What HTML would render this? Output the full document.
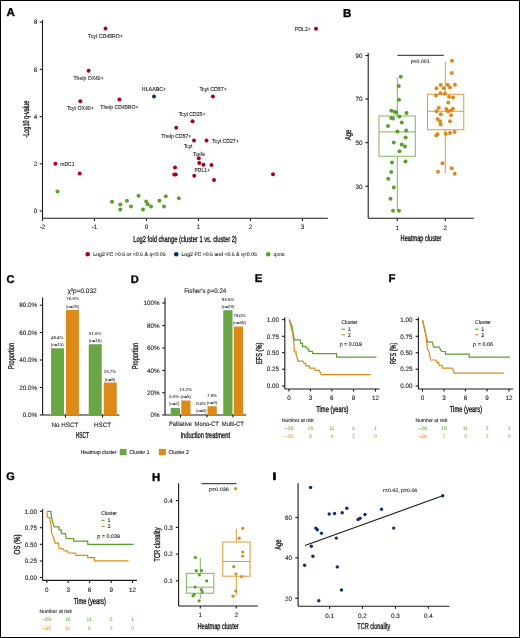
<!DOCTYPE html>
<html><head><meta charset="utf-8"><style>
html,body{margin:0;padding:0;background:#fff;}
body{width:520px;height:638px;overflow:hidden;}
svg{display:block;will-change:transform;}
text{font-family:"Liberation Sans", sans-serif;stroke-linejoin:round;text-rendering:geometricPrecision;}
text.s{text-rendering:optimizeSpeed;}
</style></head><body>
<svg width="520" height="638" viewBox="0 0 520 638">
<rect x="0" y="0" width="520" height="638" fill="#fff"/>
<text x="6.62" y="16.20" font-size="11.55" font-weight="bold" fill="#000" stroke="#000" stroke-width="0.35">A</text>
<line x1="42.50" y1="20.00" x2="42.50" y2="218.30" stroke="#1a1a1a" stroke-width="1.1" />
<line x1="42.50" y1="218.30" x2="327.90" y2="218.30" stroke="#1a1a1a" stroke-width="1.1" />
<line x1="39.70" y1="211.00" x2="42.50" y2="211.00" stroke="#1a1a1a" stroke-width="1.1" />
<text stroke="#1a1a1a" stroke-width="0.1" x="37.30" y="213.27" font-size="6.3" fill="#1a1a1a" text-anchor="end" >0</text>
<line x1="39.70" y1="163.80" x2="42.50" y2="163.80" stroke="#1a1a1a" stroke-width="1.1" />
<text stroke="#1a1a1a" stroke-width="0.1" x="37.30" y="166.07" font-size="6.3" fill="#1a1a1a" text-anchor="end" >2</text>
<line x1="39.70" y1="116.60" x2="42.50" y2="116.60" stroke="#1a1a1a" stroke-width="1.1" />
<text stroke="#1a1a1a" stroke-width="0.1" x="37.30" y="118.87" font-size="6.3" fill="#1a1a1a" text-anchor="end" >4</text>
<line x1="39.70" y1="69.40" x2="42.50" y2="69.40" stroke="#1a1a1a" stroke-width="1.1" />
<text stroke="#1a1a1a" stroke-width="0.1" x="37.30" y="71.67" font-size="6.3" fill="#1a1a1a" text-anchor="end" >6</text>
<line x1="39.70" y1="22.20" x2="42.50" y2="22.20" stroke="#1a1a1a" stroke-width="1.1" />
<text stroke="#1a1a1a" stroke-width="0.1" x="37.30" y="24.47" font-size="6.3" fill="#1a1a1a" text-anchor="end" >8</text>
<line x1="42.50" y1="218.30" x2="42.50" y2="220.90" stroke="#1a1a1a" stroke-width="1.1" />
<text stroke="#1a1a1a" stroke-width="0.1" x="42.50" y="229.07" font-size="6.3" fill="#1a1a1a" font-weight="normal" text-anchor="middle" >-2</text>
<line x1="94.50" y1="218.30" x2="94.50" y2="220.90" stroke="#1a1a1a" stroke-width="1.1" />
<text stroke="#1a1a1a" stroke-width="0.1" x="94.50" y="229.07" font-size="6.3" fill="#1a1a1a" font-weight="normal" text-anchor="middle" >-1</text>
<line x1="146.50" y1="218.30" x2="146.50" y2="220.90" stroke="#1a1a1a" stroke-width="1.1" />
<text stroke="#1a1a1a" stroke-width="0.1" x="146.50" y="229.07" font-size="6.3" fill="#1a1a1a" font-weight="normal" text-anchor="middle" >0</text>
<line x1="198.50" y1="218.30" x2="198.50" y2="220.90" stroke="#1a1a1a" stroke-width="1.1" />
<text stroke="#1a1a1a" stroke-width="0.1" x="198.50" y="229.07" font-size="6.3" fill="#1a1a1a" font-weight="normal" text-anchor="middle" >1</text>
<line x1="250.50" y1="218.30" x2="250.50" y2="220.90" stroke="#1a1a1a" stroke-width="1.1" />
<text stroke="#1a1a1a" stroke-width="0.1" x="250.50" y="229.07" font-size="6.3" fill="#1a1a1a" font-weight="normal" text-anchor="middle" >2</text>
<line x1="302.50" y1="218.30" x2="302.50" y2="220.90" stroke="#1a1a1a" stroke-width="1.1" />
<text stroke="#1a1a1a" stroke-width="0.1" x="302.50" y="229.07" font-size="6.3" fill="#1a1a1a" font-weight="normal" text-anchor="middle" >3</text>
<text transform="translate(28.80,119.20) rotate(-90)" x="0" y="0" font-size="8.6" fill="#1a1a1a" font-weight="normal" text-anchor="middle" textLength="37.00" lengthAdjust="spacingAndGlyphs" stroke="#1a1a1a" stroke-width="0.35">-Log10 q-value</text>
<text x="133.20" y="241.60" font-size="8.6" fill="#1a1a1a" font-weight="normal" textLength="103.60" lengthAdjust="spacingAndGlyphs" stroke="#1a1a1a" stroke-width="0.35" >Log2 fold change (cluster 1 vs. cluster 2)</text>
<circle cx="87.70" cy="254.20" r="2.3" fill="#a8001c"/>
<text stroke="#1a1a1a" stroke-width="0.1" x="93.20" y="256.07" font-size="5.2" fill="#1a1a1a" font-weight="normal" textLength="72.40" lengthAdjust="spacingAndGlyphs"  >Log2 FC &gt;0.5 or &lt;0.5 &amp; q&lt;0.05</text>
<circle cx="176.20" cy="254.20" r="2.3" fill="#0d2f72"/>
<text stroke="#1a1a1a" stroke-width="0.1" x="181.50" y="256.07" font-size="5.2" fill="#1a1a1a" font-weight="normal" textLength="75.40" lengthAdjust="spacingAndGlyphs"  >Log2 FC &gt;0.5 and &lt;0.5 &amp; q&lt;0.05</text>
<circle cx="268.20" cy="254.20" r="2.3" fill="#5aa02c"/>
<text stroke="#1a1a1a" stroke-width="0.1" x="273.50" y="256.07" font-size="5.2" fill="#1a1a1a" font-weight="normal" textLength="11.10" lengthAdjust="spacingAndGlyphs"  >q=ns</text>
<circle cx="57.50" cy="191.50" r="2.0" fill="#5aa02c"/>
<circle cx="112.00" cy="201.70" r="2.0" fill="#5aa02c"/>
<circle cx="120.30" cy="204.50" r="2.0" fill="#5aa02c"/>
<circle cx="120.30" cy="209.40" r="2.0" fill="#5aa02c"/>
<circle cx="127.00" cy="200.80" r="2.0" fill="#5aa02c"/>
<circle cx="131.00" cy="206.60" r="2.0" fill="#5aa02c"/>
<circle cx="138.50" cy="195.80" r="2.0" fill="#5aa02c"/>
<circle cx="143.00" cy="209.40" r="2.0" fill="#5aa02c"/>
<circle cx="146.20" cy="201.40" r="2.0" fill="#5aa02c"/>
<circle cx="147.70" cy="204.20" r="2.0" fill="#5aa02c"/>
<circle cx="151.00" cy="206.60" r="2.0" fill="#5aa02c"/>
<circle cx="159.40" cy="200.80" r="2.0" fill="#5aa02c"/>
<circle cx="164.00" cy="206.60" r="2.0" fill="#5aa02c"/>
<circle cx="165.80" cy="196.20" r="2.0" fill="#5aa02c"/>
<circle cx="178.80" cy="198.30" r="2.0" fill="#5aa02c"/>
<circle cx="105.50" cy="28.50" r="2.0" fill="#a8001c"/>
<circle cx="316.00" cy="28.70" r="2.0" fill="#a8001c"/>
<circle cx="88.60" cy="70.70" r="2.0" fill="#a8001c"/>
<circle cx="80.30" cy="101.20" r="2.0" fill="#a8001c"/>
<circle cx="119.40" cy="99.60" r="2.0" fill="#a8001c"/>
<circle cx="212.90" cy="96.50" r="2.0" fill="#a8001c"/>
<circle cx="192.50" cy="121.25" r="2.0" fill="#a8001c"/>
<circle cx="176.25" cy="127.75" r="2.0" fill="#a8001c"/>
<circle cx="194.00" cy="140.50" r="2.0" fill="#a8001c"/>
<circle cx="206.50" cy="140.50" r="2.0" fill="#a8001c"/>
<circle cx="198.75" cy="158.25" r="2.0" fill="#a8001c"/>
<circle cx="199.25" cy="163.00" r="2.0" fill="#a8001c"/>
<circle cx="203.50" cy="164.75" r="2.0" fill="#a8001c"/>
<circle cx="211.50" cy="165.00" r="2.0" fill="#a8001c"/>
<circle cx="175.00" cy="167.50" r="2.0" fill="#a8001c"/>
<circle cx="174.25" cy="174.50" r="2.0" fill="#a8001c"/>
<circle cx="175.75" cy="174.50" r="2.0" fill="#a8001c"/>
<circle cx="194.25" cy="175.75" r="2.0" fill="#a8001c"/>
<circle cx="214.00" cy="180.00" r="2.0" fill="#a8001c"/>
<circle cx="273.00" cy="174.25" r="2.0" fill="#a8001c"/>
<circle cx="55.40" cy="163.80" r="2.0" fill="#a8001c"/>
<circle cx="79.70" cy="173.40" r="2.0" fill="#a8001c"/>
<circle cx="154.00" cy="96.60" r="2.0" fill="#0d2f72"/>
<text stroke="#1a1a1a" stroke-width="0.1" x="88.10" y="38.25" font-size="5.7" fill="#1a1a1a" font-weight="normal" textLength="34.80" lengthAdjust="spacingAndGlyphs"  >Tcyt CD45RO+</text>
<text stroke="#1a1a1a" stroke-width="0.1" x="73.50" y="80.45" font-size="5.7" fill="#1a1a1a" font-weight="normal" textLength="30.20" lengthAdjust="spacingAndGlyphs"  >Thelp OX40+</text>
<text stroke="#1a1a1a" stroke-width="0.1" x="66.90" y="110.25" font-size="5.7" fill="#1a1a1a" font-weight="normal" textLength="26.80" lengthAdjust="spacingAndGlyphs"  >Tcyt OX40+</text>
<text stroke="#1a1a1a" stroke-width="0.1" x="100.30" y="108.75" font-size="5.7" fill="#1a1a1a" font-weight="normal" textLength="38.20" lengthAdjust="spacingAndGlyphs"  >Thelp CD45RO+</text>
<text stroke="#1a1a1a" stroke-width="0.1" x="141.85" y="90.95" font-size="5.7" fill="#1a1a1a" font-weight="normal" textLength="24.30" lengthAdjust="spacingAndGlyphs"  >HLAABC+</text>
<text stroke="#1a1a1a" stroke-width="0.1" x="294.80" y="30.65" font-size="5.7" fill="#1a1a1a" font-weight="normal" textLength="16.00" lengthAdjust="spacingAndGlyphs"  >PDL2+</text>
<text stroke="#1a1a1a" stroke-width="0.1" x="199.40" y="90.85" font-size="5.7" fill="#1a1a1a" font-weight="normal" textLength="27.40" lengthAdjust="spacingAndGlyphs"  >Tcyt CD57+</text>
<text stroke="#1a1a1a" stroke-width="0.1" x="178.75" y="115.80" font-size="5.7" fill="#1a1a1a" font-weight="normal" textLength="26.75" lengthAdjust="spacingAndGlyphs"  >Tcyt CD25+</text>
<text stroke="#1a1a1a" stroke-width="0.1" x="161.25" y="137.55" font-size="5.7" fill="#1a1a1a" font-weight="normal" textLength="30.00" lengthAdjust="spacingAndGlyphs"  >Thelp CD57+</text>
<text stroke="#1a1a1a" stroke-width="0.1" x="212.00" y="142.55" font-size="5.7" fill="#1a1a1a" font-weight="normal" textLength="26.75" lengthAdjust="spacingAndGlyphs"  >Tcyt CD27+</text>
<text stroke="#1a1a1a" stroke-width="0.1" x="183.75" y="147.55" font-size="5.7" fill="#1a1a1a" font-weight="normal" textLength="8.75" lengthAdjust="spacingAndGlyphs"  >Tcyt</text>
<text stroke="#1a1a1a" stroke-width="0.1" x="193.00" y="155.55" font-size="5.7" fill="#1a1a1a" font-weight="normal" textLength="12.00" lengthAdjust="spacingAndGlyphs"  >Tcells</text>
<text stroke="#1a1a1a" stroke-width="0.1" x="194.50" y="171.80" font-size="5.7" fill="#1a1a1a" font-weight="normal" textLength="15.50" lengthAdjust="spacingAndGlyphs"  >PDL1+</text>
<text stroke="#1a1a1a" stroke-width="0.1" x="60.30" y="165.85" font-size="5.7" fill="#1a1a1a" font-weight="normal" textLength="14.20" lengthAdjust="spacingAndGlyphs"  >mDC1</text>
<text x="342.92" y="17.10" font-size="11.55" font-weight="bold" fill="#000" stroke="#000" stroke-width="0.35">B</text>
<line x1="368.20" y1="52.90" x2="368.20" y2="218.30" stroke="#1a1a1a" stroke-width="1.1" />
<line x1="368.20" y1="218.30" x2="473.80" y2="218.30" stroke="#1a1a1a" stroke-width="1.1" />
<line x1="365.40" y1="186.24" x2="368.20" y2="186.24" stroke="#1a1a1a" stroke-width="1.1" />
<text stroke="#1a1a1a" stroke-width="0.1" x="362.40" y="188.51" font-size="6.3" fill="#1a1a1a" text-anchor="end" >30</text>
<line x1="365.40" y1="142.66" x2="368.20" y2="142.66" stroke="#1a1a1a" stroke-width="1.1" />
<text stroke="#1a1a1a" stroke-width="0.1" x="362.40" y="144.93" font-size="6.3" fill="#1a1a1a" text-anchor="end" >50</text>
<line x1="365.40" y1="99.08" x2="368.20" y2="99.08" stroke="#1a1a1a" stroke-width="1.1" />
<text stroke="#1a1a1a" stroke-width="0.1" x="362.40" y="101.35" font-size="6.3" fill="#1a1a1a" text-anchor="end" >70</text>
<line x1="365.40" y1="55.50" x2="368.20" y2="55.50" stroke="#1a1a1a" stroke-width="1.1" />
<text stroke="#1a1a1a" stroke-width="0.1" x="362.40" y="57.77" font-size="6.3" fill="#1a1a1a" text-anchor="end" >90</text>
<line x1="397.30" y1="218.30" x2="397.30" y2="221.00" stroke="#1a1a1a" stroke-width="1.1" />
<text stroke="#1a1a1a" stroke-width="0.1" x="397.30" y="229.77" font-size="6.3" fill="#1a1a1a" font-weight="normal" text-anchor="middle" >1</text>
<line x1="445.30" y1="218.30" x2="445.30" y2="221.00" stroke="#1a1a1a" stroke-width="1.1" />
<text stroke="#1a1a1a" stroke-width="0.1" x="445.30" y="229.77" font-size="6.3" fill="#1a1a1a" font-weight="normal" text-anchor="middle" >2</text>
<text x="400.60" y="241.40" font-size="8.6" fill="#1a1a1a" font-weight="normal" textLength="40.90" lengthAdjust="spacingAndGlyphs" stroke="#1a1a1a" stroke-width="0.35" >Heatmap cluster</text>
<text transform="translate(350.60,135.00) rotate(-90)" x="0" y="0" font-size="8.6" fill="#1a1a1a" font-weight="normal" text-anchor="middle" textLength="10.60" lengthAdjust="spacingAndGlyphs" stroke="#1a1a1a" stroke-width="0.35">Age</text>
<line x1="397.50" y1="55.30" x2="443.75" y2="55.30" stroke="#222" stroke-width="1.0" />
<text stroke="#1a1a1a" stroke-width="0.1" x="410.75" y="63.10" font-size="5.0" fill="#1a1a1a" font-weight="normal" textLength="18.75" lengthAdjust="spacingAndGlyphs"  >p&lt;0.001</text>
<line x1="397.30" y1="77.50" x2="397.30" y2="116.00" stroke="#7db85a" stroke-width="1.0" />
<line x1="397.30" y1="156.25" x2="397.30" y2="211.00" stroke="#7db85a" stroke-width="1.0" />
<rect x="379.00" y="116.00" width="36.30" height="40.25" fill="none" stroke="#7db85a" stroke-width="1.0"/>
<line x1="379.00" y1="131.90" x2="415.30" y2="131.90" stroke="#7db85a" stroke-width="1.0" />
<line x1="445.30" y1="62.00" x2="445.30" y2="94.25" stroke="#e09a3a" stroke-width="1.0" />
<line x1="445.30" y1="129.80" x2="445.30" y2="173.30" stroke="#e09a3a" stroke-width="1.0" />
<rect x="427.50" y="94.25" width="36.25" height="35.55" fill="none" stroke="#e09a3a" stroke-width="1.0"/>
<line x1="427.50" y1="111.25" x2="463.75" y2="111.25" stroke="#e09a3a" stroke-width="1.0" />
<circle cx="400.75" cy="76.75" r="2.0" fill="#5aa02c"/>
<circle cx="398.75" cy="86.00" r="2.0" fill="#5aa02c"/>
<circle cx="399.00" cy="99.75" r="2.0" fill="#5aa02c"/>
<circle cx="391.25" cy="110.75" r="2.0" fill="#5aa02c"/>
<circle cx="394.50" cy="111.75" r="2.0" fill="#5aa02c"/>
<circle cx="396.25" cy="112.50" r="2.0" fill="#5aa02c"/>
<circle cx="406.50" cy="113.00" r="2.0" fill="#5aa02c"/>
<circle cx="399.40" cy="116.50" r="2.0" fill="#5aa02c"/>
<circle cx="391.25" cy="118.00" r="2.0" fill="#5aa02c"/>
<circle cx="393.00" cy="118.50" r="2.0" fill="#5aa02c"/>
<circle cx="401.75" cy="122.40" r="2.0" fill="#5aa02c"/>
<circle cx="388.00" cy="125.90" r="2.0" fill="#5aa02c"/>
<circle cx="397.40" cy="131.50" r="2.0" fill="#5aa02c"/>
<circle cx="406.20" cy="130.40" r="2.0" fill="#5aa02c"/>
<circle cx="405.60" cy="137.50" r="2.0" fill="#5aa02c"/>
<circle cx="393.75" cy="142.50" r="2.0" fill="#5aa02c"/>
<circle cx="401.75" cy="144.50" r="2.0" fill="#5aa02c"/>
<circle cx="405.00" cy="146.50" r="2.0" fill="#5aa02c"/>
<circle cx="399.50" cy="151.25" r="2.0" fill="#5aa02c"/>
<circle cx="392.00" cy="162.50" r="2.0" fill="#5aa02c"/>
<circle cx="405.50" cy="161.50" r="2.0" fill="#5aa02c"/>
<circle cx="391.25" cy="172.00" r="2.0" fill="#5aa02c"/>
<circle cx="388.25" cy="178.75" r="2.0" fill="#5aa02c"/>
<circle cx="393.75" cy="187.50" r="2.0" fill="#5aa02c"/>
<circle cx="390.50" cy="198.75" r="2.0" fill="#5aa02c"/>
<circle cx="393.00" cy="210.75" r="2.0" fill="#5aa02c"/>
<circle cx="399.00" cy="210.75" r="2.0" fill="#5aa02c"/>
<circle cx="452.00" cy="60.75" r="2.0" fill="#db8a1a"/>
<circle cx="451.75" cy="73.00" r="2.0" fill="#db8a1a"/>
<circle cx="455.00" cy="84.75" r="2.0" fill="#db8a1a"/>
<circle cx="447.75" cy="84.75" r="2.0" fill="#db8a1a"/>
<circle cx="440.75" cy="85.00" r="2.0" fill="#db8a1a"/>
<circle cx="436.50" cy="88.25" r="2.0" fill="#db8a1a"/>
<circle cx="443.75" cy="88.25" r="2.0" fill="#db8a1a"/>
<circle cx="450.00" cy="87.50" r="2.0" fill="#db8a1a"/>
<circle cx="436.00" cy="95.50" r="2.0" fill="#db8a1a"/>
<circle cx="440.50" cy="93.25" r="2.0" fill="#db8a1a"/>
<circle cx="445.00" cy="93.75" r="2.0" fill="#db8a1a"/>
<circle cx="449.00" cy="96.75" r="2.0" fill="#db8a1a"/>
<circle cx="453.00" cy="97.50" r="2.0" fill="#db8a1a"/>
<circle cx="448.25" cy="102.50" r="2.0" fill="#db8a1a"/>
<circle cx="438.75" cy="108.00" r="2.0" fill="#db8a1a"/>
<circle cx="446.25" cy="109.00" r="2.0" fill="#db8a1a"/>
<circle cx="453.00" cy="108.75" r="2.0" fill="#db8a1a"/>
<circle cx="436.50" cy="111.25" r="2.0" fill="#db8a1a"/>
<circle cx="448.00" cy="111.25" r="2.0" fill="#db8a1a"/>
<circle cx="451.00" cy="110.50" r="2.0" fill="#db8a1a"/>
<circle cx="440.75" cy="114.25" r="2.0" fill="#db8a1a"/>
<circle cx="451.00" cy="115.25" r="2.0" fill="#db8a1a"/>
<circle cx="437.50" cy="119.00" r="2.0" fill="#db8a1a"/>
<circle cx="440.00" cy="121.25" r="2.0" fill="#db8a1a"/>
<circle cx="450.00" cy="121.25" r="2.0" fill="#db8a1a"/>
<circle cx="440.75" cy="124.50" r="2.0" fill="#db8a1a"/>
<circle cx="436.25" cy="135.50" r="2.0" fill="#db8a1a"/>
<circle cx="437.50" cy="134.25" r="2.0" fill="#db8a1a"/>
<circle cx="445.75" cy="133.75" r="2.0" fill="#db8a1a"/>
<circle cx="450.00" cy="133.00" r="2.0" fill="#db8a1a"/>
<circle cx="454.50" cy="132.00" r="2.0" fill="#db8a1a"/>
<circle cx="442.50" cy="163.25" r="2.0" fill="#db8a1a"/>
<circle cx="438.00" cy="171.75" r="2.0" fill="#db8a1a"/>
<circle cx="451.75" cy="168.25" r="2.0" fill="#db8a1a"/>
<circle cx="454.75" cy="173.75" r="2.0" fill="#db8a1a"/>
<text x="6.44" y="282.60" font-size="11.10" font-weight="bold" fill="#000" stroke="#000" stroke-width="0.35">C</text>
<text stroke="#1a1a1a" stroke-width="0.1" x="82.10" y="293.13" font-size="6.6" fill="#1a1a1a" font-weight="normal" text-anchor="middle" textLength="29.30" lengthAdjust="spacingAndGlyphs">χ²p=0.032</text>
<line x1="42.60" y1="297.50" x2="42.60" y2="415.00" stroke="#1a1a1a" stroke-width="1.1" />
<line x1="42.60" y1="415.00" x2="119.50" y2="415.00" stroke="#1a1a1a" stroke-width="1.1" />
<line x1="39.80" y1="305.20" x2="42.60" y2="305.20" stroke="#1a1a1a" stroke-width="1.1" />
<text stroke="#1a1a1a" stroke-width="0.1" x="37.00" y="307.47" font-size="6.3" fill="#1a1a1a" text-anchor="end" >80.0%</text>
<line x1="39.80" y1="332.50" x2="42.60" y2="332.50" stroke="#1a1a1a" stroke-width="1.1" />
<text stroke="#1a1a1a" stroke-width="0.1" x="37.00" y="334.77" font-size="6.3" fill="#1a1a1a" text-anchor="end" >60.0%</text>
<line x1="39.80" y1="360.00" x2="42.60" y2="360.00" stroke="#1a1a1a" stroke-width="1.1" />
<text stroke="#1a1a1a" stroke-width="0.1" x="37.00" y="362.27" font-size="6.3" fill="#1a1a1a" text-anchor="end" >40.0%</text>
<line x1="39.80" y1="387.50" x2="42.60" y2="387.50" stroke="#1a1a1a" stroke-width="1.1" />
<text stroke="#1a1a1a" stroke-width="0.1" x="37.00" y="389.77" font-size="6.3" fill="#1a1a1a" text-anchor="end" >20.0%</text>
<line x1="39.80" y1="415.00" x2="42.60" y2="415.00" stroke="#1a1a1a" stroke-width="1.1" />
<text stroke="#1a1a1a" stroke-width="0.1" x="37.00" y="417.27" font-size="6.3" fill="#1a1a1a" text-anchor="end" >0.0%</text>
<rect x="51.10" y="348.25" width="12.90" height="66.75" fill="#6aa646"/>
<rect x="65.90" y="310.00" width="13.00" height="105.00" fill="#dc8a18"/>
<rect x="88.75" y="344.25" width="13.00" height="70.75" fill="#6aa646"/>
<rect x="103.75" y="382.50" width="13.00" height="32.50" fill="#dc8a18"/>
<text class="s" stroke="#1a1a1a" stroke-width="0.04" x="72.50" y="300.33" font-size="4.4" fill="#1a1a1a" font-weight="normal" text-anchor="middle" >76.3%</text>
<text class="s" stroke="#1a1a1a" stroke-width="0.04" x="72.50" y="307.83" font-size="4.4" fill="#1a1a1a" font-weight="normal" text-anchor="middle" >(n=29)</text>
<text class="s" stroke="#1a1a1a" stroke-width="0.04" x="57.25" y="339.08" font-size="4.4" fill="#1a1a1a" font-weight="normal" text-anchor="middle" >48.4%</text>
<text class="s" stroke="#1a1a1a" stroke-width="0.04" x="57.25" y="346.33" font-size="4.4" fill="#1a1a1a" font-weight="normal" text-anchor="middle" >(n=15)</text>
<text class="s" stroke="#1a1a1a" stroke-width="0.04" x="95.25" y="334.83" font-size="4.4" fill="#1a1a1a" font-weight="normal" text-anchor="middle" >51.6%</text>
<text class="s" stroke="#1a1a1a" stroke-width="0.04" x="95.25" y="342.08" font-size="4.4" fill="#1a1a1a" font-weight="normal" text-anchor="middle" >(n=16)</text>
<text class="s" stroke="#1a1a1a" stroke-width="0.04" x="110.00" y="373.33" font-size="4.4" fill="#1a1a1a" font-weight="normal" text-anchor="middle" >23.7%</text>
<text class="s" stroke="#1a1a1a" stroke-width="0.04" x="110.00" y="380.83" font-size="4.4" fill="#1a1a1a" font-weight="normal" text-anchor="middle" >(n=9)</text>
<line x1="65.50" y1="415.00" x2="65.50" y2="417.60" stroke="#1a1a1a" stroke-width="1.1" />
<line x1="102.50" y1="415.00" x2="102.50" y2="417.60" stroke="#1a1a1a" stroke-width="1.1" />
<text stroke="#1a1a1a" stroke-width="0.1" x="65.00" y="426.52" font-size="6.3" fill="#1a1a1a" font-weight="normal" text-anchor="middle" >No HSCT</text>
<text stroke="#1a1a1a" stroke-width="0.1" x="102.50" y="426.52" font-size="6.3" fill="#1a1a1a" font-weight="normal" text-anchor="middle" >HSCT</text>
<text x="75.80" y="438.10" font-size="8.6" fill="#1a1a1a" font-weight="normal" textLength="13.00" lengthAdjust="spacingAndGlyphs" stroke="#1a1a1a" stroke-width="0.35" >HSCT</text>
<text transform="translate(14.00,356.05) rotate(-90)" x="0" y="0" font-size="8.6" fill="#1a1a1a" font-weight="normal" text-anchor="middle" textLength="26.30" lengthAdjust="spacingAndGlyphs" stroke="#1a1a1a" stroke-width="0.35">Proportion</text>
<text x="130.69" y="282.60" font-size="11.10" font-weight="bold" fill="#000" stroke="#000" stroke-width="0.35">D</text>
<text stroke="#1a1a1a" stroke-width="0.1" x="184.25" y="292.88" font-size="6.6" fill="#1a1a1a" font-weight="normal" textLength="42.00" lengthAdjust="spacingAndGlyphs"  >Fisher's p=0.24</text>
<line x1="165.00" y1="297.50" x2="165.00" y2="415.00" stroke="#1a1a1a" stroke-width="1.1" />
<line x1="165.00" y1="415.00" x2="246.25" y2="415.00" stroke="#1a1a1a" stroke-width="1.1" />
<line x1="162.20" y1="303.00" x2="165.00" y2="303.00" stroke="#1a1a1a" stroke-width="1.1" />
<text stroke="#1a1a1a" stroke-width="0.1" x="159.70" y="305.27" font-size="6.3" fill="#1a1a1a" text-anchor="end" >100%</text>
<line x1="162.20" y1="325.50" x2="165.00" y2="325.50" stroke="#1a1a1a" stroke-width="1.1" />
<text stroke="#1a1a1a" stroke-width="0.1" x="159.70" y="327.77" font-size="6.3" fill="#1a1a1a" text-anchor="end" >80%</text>
<line x1="162.20" y1="348.00" x2="165.00" y2="348.00" stroke="#1a1a1a" stroke-width="1.1" />
<text stroke="#1a1a1a" stroke-width="0.1" x="159.70" y="350.27" font-size="6.3" fill="#1a1a1a" text-anchor="end" >60%</text>
<line x1="162.20" y1="370.50" x2="165.00" y2="370.50" stroke="#1a1a1a" stroke-width="1.1" />
<text stroke="#1a1a1a" stroke-width="0.1" x="159.70" y="372.77" font-size="6.3" fill="#1a1a1a" text-anchor="end" >40%</text>
<line x1="162.20" y1="392.75" x2="165.00" y2="392.75" stroke="#1a1a1a" stroke-width="1.1" />
<text stroke="#1a1a1a" stroke-width="0.1" x="159.70" y="395.02" font-size="6.3" fill="#1a1a1a" text-anchor="end" >20%</text>
<line x1="162.20" y1="415.00" x2="165.00" y2="415.00" stroke="#1a1a1a" stroke-width="1.1" />
<text stroke="#1a1a1a" stroke-width="0.1" x="159.70" y="417.27" font-size="6.3" fill="#1a1a1a" text-anchor="end" >0%</text>
<rect x="170.75" y="408.00" width="9.25" height="7.00" fill="#6aa646"/>
<rect x="181.25" y="400.50" width="9.25" height="14.50" fill="#dc8a18"/>
<rect x="207.50" y="406.25" width="9.25" height="8.75" fill="#dc8a18"/>
<rect x="223.25" y="310.25" width="9.25" height="104.75" fill="#6aa646"/>
<rect x="233.75" y="326.50" width="9.25" height="88.50" fill="#dc8a18"/>
<text class="s" stroke="#1a1a1a" stroke-width="0.04" x="174.25" y="397.83" font-size="4.4" fill="#1a1a1a" font-weight="normal" text-anchor="middle" >6.5%</text>
<text class="s" stroke="#1a1a1a" stroke-width="0.04" x="174.25" y="404.83" font-size="4.4" fill="#1a1a1a" font-weight="normal" text-anchor="middle" >(n=2)</text>
<text class="s" stroke="#1a1a1a" stroke-width="0.04" x="185.75" y="390.83" font-size="4.4" fill="#1a1a1a" font-weight="normal" text-anchor="middle" >13.2%</text>
<text class="s" stroke="#1a1a1a" stroke-width="0.04" x="185.75" y="398.08" font-size="4.4" fill="#1a1a1a" font-weight="normal" text-anchor="middle" >(n=5)</text>
<text class="s" stroke="#1a1a1a" stroke-width="0.04" x="201.25" y="404.83" font-size="4.4" fill="#1a1a1a" font-weight="normal" text-anchor="middle" >0.0%</text>
<text class="s" stroke="#1a1a1a" stroke-width="0.04" x="201.25" y="411.83" font-size="4.4" fill="#1a1a1a" font-weight="normal" text-anchor="middle" >(n=0)</text>
<text class="s" stroke="#1a1a1a" stroke-width="0.04" x="212.00" y="396.83" font-size="4.4" fill="#1a1a1a" font-weight="normal" text-anchor="middle" >7.9%</text>
<text class="s" stroke="#1a1a1a" stroke-width="0.04" x="212.00" y="403.83" font-size="4.4" fill="#1a1a1a" font-weight="normal" text-anchor="middle" >(n=3)</text>
<text class="s" stroke="#1a1a1a" stroke-width="0.04" x="228.00" y="300.83" font-size="4.4" fill="#1a1a1a" font-weight="normal" text-anchor="middle" >93.5%</text>
<text class="s" stroke="#1a1a1a" stroke-width="0.04" x="228.00" y="307.83" font-size="4.4" fill="#1a1a1a" font-weight="normal" text-anchor="middle" >(n=29)</text>
<text class="s" stroke="#1a1a1a" stroke-width="0.04" x="239.50" y="317.08" font-size="4.4" fill="#1a1a1a" font-weight="normal" text-anchor="middle" >79.0%</text>
<text class="s" stroke="#1a1a1a" stroke-width="0.04" x="239.50" y="324.08" font-size="4.4" fill="#1a1a1a" font-weight="normal" text-anchor="middle" >(n=30)</text>
<line x1="180.50" y1="415.00" x2="180.50" y2="417.60" stroke="#1a1a1a" stroke-width="1.1" />
<line x1="207.00" y1="415.00" x2="207.00" y2="417.60" stroke="#1a1a1a" stroke-width="1.1" />
<line x1="233.00" y1="415.00" x2="233.00" y2="417.60" stroke="#1a1a1a" stroke-width="1.1" />
<text stroke="#1a1a1a" stroke-width="0.1" x="169.00" y="426.17" font-size="6.3" fill="#1a1a1a" font-weight="normal" textLength="23.00" lengthAdjust="spacingAndGlyphs"  >Palliative</text>
<text stroke="#1a1a1a" stroke-width="0.1" x="194.60" y="426.17" font-size="6.3" fill="#1a1a1a" font-weight="normal" textLength="24.20" lengthAdjust="spacingAndGlyphs"  >Mono-CT</text>
<text stroke="#1a1a1a" stroke-width="0.1" x="221.80" y="426.17" font-size="6.3" fill="#1a1a1a" font-weight="normal" textLength="22.10" lengthAdjust="spacingAndGlyphs"  >Multi-CT</text>
<text x="180.50" y="438.10" font-size="8.6" fill="#1a1a1a" font-weight="normal" textLength="49.50" lengthAdjust="spacingAndGlyphs" stroke="#1a1a1a" stroke-width="0.35" >Induction treatment</text>
<text transform="translate(138.40,356.05) rotate(-90)" x="0" y="0" font-size="8.6" fill="#1a1a1a" font-weight="normal" text-anchor="middle" textLength="26.30" lengthAdjust="spacingAndGlyphs" stroke="#1a1a1a" stroke-width="0.35">Proportion</text>
<text stroke="#1a1a1a" stroke-width="0.1" x="80.70" y="454.12" font-size="5.6" fill="#1a1a1a" font-weight="normal" textLength="35.80" lengthAdjust="spacingAndGlyphs"  >Heatmap cluster</text>
<rect x="119.80" y="448.90" width="6.70" height="6.40" fill="#6aa646"/>
<text stroke="#1a1a1a" stroke-width="0.1" x="129.50" y="454.12" font-size="5.6" fill="#1a1a1a" font-weight="normal" textLength="19.90" lengthAdjust="spacingAndGlyphs"  >Cluster 1</text>
<rect x="158.80" y="448.90" width="7.00" height="6.40" fill="#dc8a18"/>
<text stroke="#1a1a1a" stroke-width="0.1" x="168.50" y="454.12" font-size="5.6" fill="#1a1a1a" font-weight="normal" textLength="20.20" lengthAdjust="spacingAndGlyphs"  >Cluster 2</text>
<text x="254.83" y="282.40" font-size="11.40" font-weight="bold" fill="#000" stroke="#000" stroke-width="0.35">E</text>
<line x1="284.80" y1="317.20" x2="284.80" y2="389.00" stroke="#1a1a1a" stroke-width="1.1" />
<line x1="284.80" y1="389.00" x2="379.50" y2="389.00" stroke="#1a1a1a" stroke-width="1.1" />
<line x1="282.00" y1="319.60" x2="284.80" y2="319.60" stroke="#1a1a1a" stroke-width="1.1" />
<text stroke="#1a1a1a" stroke-width="0.1" x="279.00" y="321.87" font-size="6.3" fill="#1a1a1a" text-anchor="end" >1.00</text>
<line x1="282.00" y1="336.30" x2="284.80" y2="336.30" stroke="#1a1a1a" stroke-width="1.1" />
<text stroke="#1a1a1a" stroke-width="0.1" x="279.00" y="338.57" font-size="6.3" fill="#1a1a1a" text-anchor="end" >0.75</text>
<line x1="282.00" y1="352.70" x2="284.80" y2="352.70" stroke="#1a1a1a" stroke-width="1.1" />
<text stroke="#1a1a1a" stroke-width="0.1" x="279.00" y="354.97" font-size="6.3" fill="#1a1a1a" text-anchor="end" >0.50</text>
<line x1="282.00" y1="369.20" x2="284.80" y2="369.20" stroke="#1a1a1a" stroke-width="1.1" />
<text stroke="#1a1a1a" stroke-width="0.1" x="279.00" y="371.47" font-size="6.3" fill="#1a1a1a" text-anchor="end" >0.25</text>
<line x1="282.00" y1="386.00" x2="284.80" y2="386.00" stroke="#1a1a1a" stroke-width="1.1" />
<text stroke="#1a1a1a" stroke-width="0.1" x="279.00" y="388.27" font-size="6.3" fill="#1a1a1a" text-anchor="end" >0.00</text>
<line x1="288.90" y1="389.00" x2="288.90" y2="391.60" stroke="#1a1a1a" stroke-width="1.1" />
<text stroke="#1a1a1a" stroke-width="0.1" x="288.90" y="400.27" font-size="6.3" fill="#1a1a1a" font-weight="normal" text-anchor="middle" >0</text>
<line x1="310.40" y1="389.00" x2="310.40" y2="391.60" stroke="#1a1a1a" stroke-width="1.1" />
<text stroke="#1a1a1a" stroke-width="0.1" x="310.40" y="400.27" font-size="6.3" fill="#1a1a1a" font-weight="normal" text-anchor="middle" >3</text>
<line x1="331.80" y1="389.00" x2="331.80" y2="391.60" stroke="#1a1a1a" stroke-width="1.1" />
<text stroke="#1a1a1a" stroke-width="0.1" x="331.80" y="400.27" font-size="6.3" fill="#1a1a1a" font-weight="normal" text-anchor="middle" >6</text>
<line x1="353.50" y1="389.00" x2="353.50" y2="391.60" stroke="#1a1a1a" stroke-width="1.1" />
<text stroke="#1a1a1a" stroke-width="0.1" x="353.50" y="400.27" font-size="6.3" fill="#1a1a1a" font-weight="normal" text-anchor="middle" >9</text>
<line x1="375.50" y1="389.00" x2="375.50" y2="391.60" stroke="#1a1a1a" stroke-width="1.1" />
<text stroke="#1a1a1a" stroke-width="0.1" x="375.50" y="400.27" font-size="6.3" fill="#1a1a1a" font-weight="normal" text-anchor="middle" >12</text>
<text x="316.20" y="412.40" font-size="8.6" fill="#1a1a1a" font-weight="normal" textLength="32.30" lengthAdjust="spacingAndGlyphs" stroke="#1a1a1a" stroke-width="0.35" >Time (years)</text>
<text transform="translate(262.30,353.30) rotate(-90)" x="0" y="0" font-size="8.6" fill="#1a1a1a" font-weight="normal" text-anchor="middle" textLength="21.20" lengthAdjust="spacingAndGlyphs" stroke="#1a1a1a" stroke-width="0.35">EFS (%)</text>
<text stroke="#1a1a1a" stroke-width="0.1" x="341.50" y="323.64" font-size="5.4" fill="#1a1a1a" font-weight="normal" textLength="15.90" lengthAdjust="spacingAndGlyphs"  >Cluster</text>
<line x1="341.50" y1="329.20" x2="345.00" y2="329.20" stroke="#5aa02c" stroke-width="1.1" />
<text stroke="#1a1a1a" stroke-width="0.1" x="349.20" y="331.14" font-size="5.4" fill="#1a1a1a" font-weight="normal" text-anchor="middle" >1</text>
<line x1="341.50" y1="334.80" x2="345.00" y2="334.80" stroke="#db8a1a" stroke-width="1.1" />
<text stroke="#1a1a1a" stroke-width="0.1" x="349.20" y="336.74" font-size="5.4" fill="#1a1a1a" font-weight="normal" text-anchor="middle" >2</text>
<text stroke="#1a1a1a" stroke-width="0.1" x="339.70" y="345.94" font-size="5.4" fill="#1a1a1a" font-weight="normal" textLength="22.30" lengthAdjust="spacingAndGlyphs"  >p = 0.019</text>
<text stroke="#1a1a1a" stroke-width="0.1" x="282.00" y="421.50" font-size="5.0" fill="#1a1a1a" font-weight="normal" textLength="31.80" lengthAdjust="spacingAndGlyphs"  >Number at risk</text>
<text stroke="#70b24c" stroke-width="0.1" x="284.30" y="430.00" font-size="5.0" fill="#70b24c" font-weight="normal" textLength="9.20" lengthAdjust="spacingAndGlyphs"  >−29</text>
<text stroke="#e59c40" stroke-width="0.1" x="284.30" y="438.30" font-size="5.0" fill="#e59c40" font-weight="normal" textLength="9.20" lengthAdjust="spacingAndGlyphs"  >−30</text>
<text stroke="#70b24c" stroke-width="0.1" x="310.40" y="430.00" font-size="5.0" fill="#70b24c" font-weight="normal" text-anchor="middle" >15</text>
<text stroke="#e59c40" stroke-width="0.1" x="310.40" y="438.30" font-size="5.0" fill="#e59c40" font-weight="normal" text-anchor="middle" >8</text>
<text stroke="#70b24c" stroke-width="0.1" x="331.80" y="430.00" font-size="5.0" fill="#70b24c" font-weight="normal" text-anchor="middle" >11</text>
<text stroke="#e59c40" stroke-width="0.1" x="331.80" y="438.30" font-size="5.0" fill="#e59c40" font-weight="normal" text-anchor="middle" >4</text>
<text stroke="#70b24c" stroke-width="0.1" x="353.50" y="430.00" font-size="5.0" fill="#70b24c" font-weight="normal" text-anchor="middle" >2</text>
<text stroke="#e59c40" stroke-width="0.1" x="353.50" y="438.30" font-size="5.0" fill="#e59c40" font-weight="normal" text-anchor="middle" >2</text>
<text stroke="#70b24c" stroke-width="0.1" x="375.50" y="430.00" font-size="5.0" fill="#70b24c" font-weight="normal" text-anchor="middle" >1</text>
<text stroke="#e59c40" stroke-width="0.1" x="375.50" y="438.30" font-size="5.0" fill="#e59c40" font-weight="normal" text-anchor="middle" >0</text>
<polyline points="289.20,319.60 292.10,326.50 293.20,333.50 294.40,339.80 300.20,339.80 300.70,343.30 302.50,343.30 302.50,346.70 305.90,346.70 307.10,349.00 308.80,349.00 308.80,351.30 312.30,351.30 312.80,353.70 336.50,353.70 336.50,357.10 376.50,357.10" fill="none" stroke="#5aa02c" stroke-width="1.2" stroke-linejoin="miter"/>
<polyline points="289.20,319.60 290.30,324.20 292.70,333.50 293.80,342.70 294.40,351.90 296.10,351.90 296.10,354.80 297.30,357.70 297.80,361.20 303.00,361.20 304.20,363.50 305.90,363.50 305.90,365.80 309.40,365.80 309.40,368.10 314.60,368.10 315.20,370.40 319.20,370.40 321.30,374.60 370.80,374.60" fill="none" stroke="#db8a1a" stroke-width="1.2" stroke-linejoin="miter"/>
<text x="388.43" y="282.40" font-size="11.40" font-weight="bold" fill="#000" stroke="#000" stroke-width="0.35">F</text>
<line x1="418.40" y1="317.20" x2="418.40" y2="389.00" stroke="#1a1a1a" stroke-width="1.1" />
<line x1="418.40" y1="389.00" x2="513.10" y2="389.00" stroke="#1a1a1a" stroke-width="1.1" />
<line x1="415.60" y1="319.60" x2="418.40" y2="319.60" stroke="#1a1a1a" stroke-width="1.1" />
<text stroke="#1a1a1a" stroke-width="0.1" x="412.60" y="321.87" font-size="6.3" fill="#1a1a1a" text-anchor="end" >1.00</text>
<line x1="415.60" y1="336.30" x2="418.40" y2="336.30" stroke="#1a1a1a" stroke-width="1.1" />
<text stroke="#1a1a1a" stroke-width="0.1" x="412.60" y="338.57" font-size="6.3" fill="#1a1a1a" text-anchor="end" >0.75</text>
<line x1="415.60" y1="352.70" x2="418.40" y2="352.70" stroke="#1a1a1a" stroke-width="1.1" />
<text stroke="#1a1a1a" stroke-width="0.1" x="412.60" y="354.97" font-size="6.3" fill="#1a1a1a" text-anchor="end" >0.50</text>
<line x1="415.60" y1="369.20" x2="418.40" y2="369.20" stroke="#1a1a1a" stroke-width="1.1" />
<text stroke="#1a1a1a" stroke-width="0.1" x="412.60" y="371.47" font-size="6.3" fill="#1a1a1a" text-anchor="end" >0.25</text>
<line x1="415.60" y1="386.00" x2="418.40" y2="386.00" stroke="#1a1a1a" stroke-width="1.1" />
<text stroke="#1a1a1a" stroke-width="0.1" x="412.60" y="388.27" font-size="6.3" fill="#1a1a1a" text-anchor="end" >0.00</text>
<line x1="422.50" y1="389.00" x2="422.50" y2="391.60" stroke="#1a1a1a" stroke-width="1.1" />
<text stroke="#1a1a1a" stroke-width="0.1" x="422.50" y="400.27" font-size="6.3" fill="#1a1a1a" font-weight="normal" text-anchor="middle" >0</text>
<line x1="444.00" y1="389.00" x2="444.00" y2="391.60" stroke="#1a1a1a" stroke-width="1.1" />
<text stroke="#1a1a1a" stroke-width="0.1" x="444.00" y="400.27" font-size="6.3" fill="#1a1a1a" font-weight="normal" text-anchor="middle" >3</text>
<line x1="465.40" y1="389.00" x2="465.40" y2="391.60" stroke="#1a1a1a" stroke-width="1.1" />
<text stroke="#1a1a1a" stroke-width="0.1" x="465.40" y="400.27" font-size="6.3" fill="#1a1a1a" font-weight="normal" text-anchor="middle" >6</text>
<line x1="487.10" y1="389.00" x2="487.10" y2="391.60" stroke="#1a1a1a" stroke-width="1.1" />
<text stroke="#1a1a1a" stroke-width="0.1" x="487.10" y="400.27" font-size="6.3" fill="#1a1a1a" font-weight="normal" text-anchor="middle" >9</text>
<line x1="509.10" y1="389.00" x2="509.10" y2="391.60" stroke="#1a1a1a" stroke-width="1.1" />
<text stroke="#1a1a1a" stroke-width="0.1" x="509.10" y="400.27" font-size="6.3" fill="#1a1a1a" font-weight="normal" text-anchor="middle" >12</text>
<text x="449.80" y="412.40" font-size="8.6" fill="#1a1a1a" font-weight="normal" textLength="32.30" lengthAdjust="spacingAndGlyphs" stroke="#1a1a1a" stroke-width="0.35" >Time (years)</text>
<text transform="translate(395.90,353.30) rotate(-90)" x="0" y="0" font-size="8.6" fill="#1a1a1a" font-weight="normal" text-anchor="middle" textLength="21.20" lengthAdjust="spacingAndGlyphs" stroke="#1a1a1a" stroke-width="0.35">RFS (%)</text>
<text stroke="#1a1a1a" stroke-width="0.1" x="475.10" y="323.64" font-size="5.4" fill="#1a1a1a" font-weight="normal" textLength="15.90" lengthAdjust="spacingAndGlyphs"  >Cluster</text>
<line x1="475.10" y1="329.20" x2="478.60" y2="329.20" stroke="#5aa02c" stroke-width="1.1" />
<text stroke="#1a1a1a" stroke-width="0.1" x="482.80" y="331.14" font-size="5.4" fill="#1a1a1a" font-weight="normal" text-anchor="middle" >1</text>
<line x1="475.10" y1="334.80" x2="478.60" y2="334.80" stroke="#db8a1a" stroke-width="1.1" />
<text stroke="#1a1a1a" stroke-width="0.1" x="482.80" y="336.74" font-size="5.4" fill="#1a1a1a" font-weight="normal" text-anchor="middle" >2</text>
<text stroke="#1a1a1a" stroke-width="0.1" x="473.10" y="345.94" font-size="5.4" fill="#1a1a1a" font-weight="normal" textLength="20.00" lengthAdjust="spacingAndGlyphs"  >p = 0.06</text>
<text stroke="#1a1a1a" stroke-width="0.1" x="415.60" y="421.50" font-size="5.0" fill="#1a1a1a" font-weight="normal" textLength="31.80" lengthAdjust="spacingAndGlyphs"  >Number at risk</text>
<text stroke="#70b24c" stroke-width="0.1" x="417.90" y="430.00" font-size="5.0" fill="#70b24c" font-weight="normal" textLength="9.20" lengthAdjust="spacingAndGlyphs"  >−29</text>
<text stroke="#e59c40" stroke-width="0.1" x="417.90" y="438.30" font-size="5.0" fill="#e59c40" font-weight="normal" textLength="9.20" lengthAdjust="spacingAndGlyphs"  >−26</text>
<text stroke="#70b24c" stroke-width="0.1" x="444.00" y="430.00" font-size="5.0" fill="#70b24c" font-weight="normal" text-anchor="middle" >15</text>
<text stroke="#e59c40" stroke-width="0.1" x="444.00" y="438.30" font-size="5.0" fill="#e59c40" font-weight="normal" text-anchor="middle" >7</text>
<text stroke="#70b24c" stroke-width="0.1" x="465.40" y="430.00" font-size="5.0" fill="#70b24c" font-weight="normal" text-anchor="middle" >11</text>
<text stroke="#e59c40" stroke-width="0.1" x="465.40" y="438.30" font-size="5.0" fill="#e59c40" font-weight="normal" text-anchor="middle" >3</text>
<text stroke="#70b24c" stroke-width="0.1" x="487.10" y="430.00" font-size="5.0" fill="#70b24c" font-weight="normal" text-anchor="middle" >2</text>
<text stroke="#e59c40" stroke-width="0.1" x="487.10" y="438.30" font-size="5.0" fill="#e59c40" font-weight="normal" text-anchor="middle" >2</text>
<text stroke="#70b24c" stroke-width="0.1" x="509.10" y="430.00" font-size="5.0" fill="#70b24c" font-weight="normal" text-anchor="middle" >1</text>
<text stroke="#e59c40" stroke-width="0.1" x="509.10" y="438.30" font-size="5.0" fill="#e59c40" font-weight="normal" text-anchor="middle" >0</text>
<polyline points="422.60,320.20 426.10,335.80 427.20,341.00 427.80,342.10 432.40,342.10 433.60,347.10 439.30,347.10 440.50,349.60 441.70,351.30 445.40,351.50 445.40,354.20 469.20,354.20 469.20,357.20 510.00,357.20" fill="none" stroke="#5aa02c" stroke-width="1.2" stroke-linejoin="miter"/>
<polyline points="422.60,320.20 426.10,335.80 426.70,342.70 427.50,349.60 429.00,351.30 429.50,354.20 430.50,360.00 435.90,360.00 437.00,362.30 438.80,362.30 438.80,365.20 442.30,365.70 442.30,368.20 452.30,368.20 453.80,370.80 453.80,373.10 504.30,373.10" fill="none" stroke="#db8a1a" stroke-width="1.2" stroke-linejoin="miter"/>
<text x="6.35" y="480.10" font-size="10.96" font-weight="bold" fill="#000" stroke="#000" stroke-width="0.35">G</text>
<line x1="42.60" y1="508.90" x2="42.60" y2="580.40" stroke="#1a1a1a" stroke-width="1.1" />
<line x1="42.60" y1="580.40" x2="136.90" y2="580.40" stroke="#1a1a1a" stroke-width="1.1" />
<line x1="39.80" y1="511.30" x2="42.60" y2="511.30" stroke="#1a1a1a" stroke-width="1.1" />
<text stroke="#1a1a1a" stroke-width="0.1" x="37.00" y="513.57" font-size="6.3" fill="#1a1a1a" text-anchor="end" >1.00</text>
<line x1="39.80" y1="527.70" x2="42.60" y2="527.70" stroke="#1a1a1a" stroke-width="1.1" />
<text stroke="#1a1a1a" stroke-width="0.1" x="37.00" y="529.97" font-size="6.3" fill="#1a1a1a" text-anchor="end" >0.75</text>
<line x1="39.80" y1="544.30" x2="42.60" y2="544.30" stroke="#1a1a1a" stroke-width="1.1" />
<text stroke="#1a1a1a" stroke-width="0.1" x="37.00" y="546.57" font-size="6.3" fill="#1a1a1a" text-anchor="end" >0.50</text>
<line x1="39.80" y1="561.00" x2="42.60" y2="561.00" stroke="#1a1a1a" stroke-width="1.1" />
<text stroke="#1a1a1a" stroke-width="0.1" x="37.00" y="563.27" font-size="6.3" fill="#1a1a1a" text-anchor="end" >0.25</text>
<line x1="39.80" y1="577.50" x2="42.60" y2="577.50" stroke="#1a1a1a" stroke-width="1.1" />
<text stroke="#1a1a1a" stroke-width="0.1" x="37.00" y="579.77" font-size="6.3" fill="#1a1a1a" text-anchor="end" >0.00</text>
<line x1="46.80" y1="580.40" x2="46.80" y2="583.00" stroke="#1a1a1a" stroke-width="1.1" />
<text stroke="#1a1a1a" stroke-width="0.1" x="46.80" y="592.37" font-size="6.3" fill="#1a1a1a" font-weight="normal" text-anchor="middle" >0</text>
<line x1="68.20" y1="580.40" x2="68.20" y2="583.00" stroke="#1a1a1a" stroke-width="1.1" />
<text stroke="#1a1a1a" stroke-width="0.1" x="68.20" y="592.37" font-size="6.3" fill="#1a1a1a" font-weight="normal" text-anchor="middle" >3</text>
<line x1="89.50" y1="580.40" x2="89.50" y2="583.00" stroke="#1a1a1a" stroke-width="1.1" />
<text stroke="#1a1a1a" stroke-width="0.1" x="89.50" y="592.37" font-size="6.3" fill="#1a1a1a" font-weight="normal" text-anchor="middle" >6</text>
<line x1="111.20" y1="580.40" x2="111.20" y2="583.00" stroke="#1a1a1a" stroke-width="1.1" />
<text stroke="#1a1a1a" stroke-width="0.1" x="111.20" y="592.37" font-size="6.3" fill="#1a1a1a" font-weight="normal" text-anchor="middle" >9</text>
<line x1="132.60" y1="580.40" x2="132.60" y2="583.00" stroke="#1a1a1a" stroke-width="1.1" />
<text stroke="#1a1a1a" stroke-width="0.1" x="132.60" y="592.37" font-size="6.3" fill="#1a1a1a" font-weight="normal" text-anchor="middle" >12</text>
<text x="73.80" y="603.80" font-size="8.6" fill="#1a1a1a" font-weight="normal" textLength="32.10" lengthAdjust="spacingAndGlyphs" stroke="#1a1a1a" stroke-width="0.35" >Time (years)</text>
<text transform="translate(20.40,544.50) rotate(-90)" x="0" y="0" font-size="8.6" fill="#1a1a1a" font-weight="normal" text-anchor="middle" textLength="20.00" lengthAdjust="spacingAndGlyphs" stroke="#1a1a1a" stroke-width="0.35">OS (%)</text>
<text stroke="#1a1a1a" stroke-width="0.1" x="101.20" y="515.04" font-size="5.4" fill="#1a1a1a" font-weight="normal" textLength="15.70" lengthAdjust="spacingAndGlyphs"  >Cluster</text>
<line x1="101.20" y1="520.30" x2="104.60" y2="520.30" stroke="#5aa02c" stroke-width="1.1" />
<text stroke="#1a1a1a" stroke-width="0.1" x="108.90" y="522.24" font-size="5.4" fill="#1a1a1a" font-weight="normal" text-anchor="middle" >1</text>
<line x1="101.20" y1="526.50" x2="104.60" y2="526.50" stroke="#db8a1a" stroke-width="1.1" />
<text stroke="#1a1a1a" stroke-width="0.1" x="108.90" y="528.44" font-size="5.4" fill="#1a1a1a" font-weight="normal" text-anchor="middle" >2</text>
<text stroke="#1a1a1a" stroke-width="0.1" x="97.20" y="537.74" font-size="5.4" fill="#1a1a1a" font-weight="normal" textLength="22.80" lengthAdjust="spacingAndGlyphs"  >p = 0.039</text>
<text stroke="#1a1a1a" stroke-width="0.1" x="39.60" y="613.30" font-size="5.0" fill="#1a1a1a" font-weight="normal" textLength="32.30" lengthAdjust="spacingAndGlyphs"  >Number at risk</text>
<text stroke="#70b24c" stroke-width="0.1" x="41.90" y="621.40" font-size="5.0" fill="#70b24c" font-weight="normal" textLength="9.30" lengthAdjust="spacingAndGlyphs"  >−29</text>
<text stroke="#e59c40" stroke-width="0.1" x="41.90" y="630.00" font-size="5.0" fill="#e59c40" font-weight="normal" textLength="9.30" lengthAdjust="spacingAndGlyphs"  >−30</text>
<text stroke="#70b24c" stroke-width="0.1" x="67.80" y="621.40" font-size="5.0" fill="#70b24c" font-weight="normal" text-anchor="middle" >16</text>
<text stroke="#e59c40" stroke-width="0.1" x="67.80" y="630.00" font-size="5.0" fill="#e59c40" font-weight="normal" text-anchor="middle" >11</text>
<text stroke="#70b24c" stroke-width="0.1" x="89.20" y="621.40" font-size="5.0" fill="#70b24c" font-weight="normal" text-anchor="middle" >11</text>
<text stroke="#e59c40" stroke-width="0.1" x="89.20" y="630.00" font-size="5.0" fill="#e59c40" font-weight="normal" text-anchor="middle" >8</text>
<text stroke="#70b24c" stroke-width="0.1" x="111.20" y="621.40" font-size="5.0" fill="#70b24c" font-weight="normal" text-anchor="middle" >2</text>
<text stroke="#e59c40" stroke-width="0.1" x="111.20" y="630.00" font-size="5.0" fill="#e59c40" font-weight="normal" text-anchor="middle" >2</text>
<text stroke="#70b24c" stroke-width="0.1" x="132.60" y="621.40" font-size="5.0" fill="#70b24c" font-weight="normal" text-anchor="middle" >1</text>
<text stroke="#e59c40" stroke-width="0.1" x="132.60" y="630.00" font-size="5.0" fill="#e59c40" font-weight="normal" text-anchor="middle" >0</text>
<polyline points="47.20,511.30 49.20,511.30 51.00,511.30 51.00,513.70 52.10,520.00 53.80,525.80 54.40,526.90 57.30,526.90 59.00,526.90 59.00,529.80 61.30,529.80 61.30,533.60 65.40,533.60 66.30,538.50 73.50,538.50 73.70,541.20 87.70,541.20 87.70,544.30 133.80,544.30" fill="none" stroke="#5aa02c" stroke-width="1.2" stroke-linejoin="miter"/>
<polyline points="47.20,511.30 46.90,515.40 48.10,517.70 49.80,517.70 49.80,518.80 51.00,524.60 51.50,532.70 52.70,535.60 53.80,538.50 55.00,543.10 58.50,543.10 58.50,544.20 59.00,548.30 63.10,548.80 64.20,550.60 67.10,550.90 68.30,552.90 75.30,553.10 76.20,555.40 87.70,555.40 87.70,557.70 94.60,557.70 94.60,560.80 128.50,560.80" fill="none" stroke="#db8a1a" stroke-width="1.2" stroke-linejoin="miter"/>
<text x="151.93" y="480.50" font-size="11.40" font-weight="bold" fill="#000" stroke="#000" stroke-width="0.35">H</text>
<line x1="178.60" y1="483.30" x2="178.60" y2="606.00" stroke="#1a1a1a" stroke-width="1.1" />
<line x1="178.60" y1="606.00" x2="257.80" y2="606.00" stroke="#1a1a1a" stroke-width="1.1" />
<line x1="175.80" y1="500.60" x2="178.60" y2="500.60" stroke="#1a1a1a" stroke-width="1.1" />
<text stroke="#1a1a1a" stroke-width="0.1" x="172.70" y="502.87" font-size="6.3" fill="#1a1a1a" text-anchor="end" >0.4</text>
<line x1="175.80" y1="527.40" x2="178.60" y2="527.40" stroke="#1a1a1a" stroke-width="1.1" />
<text stroke="#1a1a1a" stroke-width="0.1" x="172.70" y="529.67" font-size="6.3" fill="#1a1a1a" text-anchor="end" >0.3</text>
<line x1="175.80" y1="554.10" x2="178.60" y2="554.10" stroke="#1a1a1a" stroke-width="1.1" />
<text stroke="#1a1a1a" stroke-width="0.1" x="172.70" y="556.37" font-size="6.3" fill="#1a1a1a" text-anchor="end" >0.2</text>
<line x1="175.80" y1="580.90" x2="178.60" y2="580.90" stroke="#1a1a1a" stroke-width="1.1" />
<text stroke="#1a1a1a" stroke-width="0.1" x="172.70" y="583.17" font-size="6.3" fill="#1a1a1a" text-anchor="end" >0.1</text>
<line x1="200.30" y1="606.00" x2="200.30" y2="608.60" stroke="#1a1a1a" stroke-width="1.1" />
<text stroke="#1a1a1a" stroke-width="0.1" x="200.30" y="617.27" font-size="6.3" fill="#1a1a1a" font-weight="normal" text-anchor="middle" >1</text>
<line x1="236.30" y1="606.00" x2="236.30" y2="608.60" stroke="#1a1a1a" stroke-width="1.1" />
<text stroke="#1a1a1a" stroke-width="0.1" x="236.30" y="617.27" font-size="6.3" fill="#1a1a1a" font-weight="normal" text-anchor="middle" >2</text>
<text x="197.50" y="629.35" font-size="8.6" fill="#1a1a1a" font-weight="normal" textLength="41.25" lengthAdjust="spacingAndGlyphs" stroke="#1a1a1a" stroke-width="0.35" >Heatmap cluster</text>
<text transform="translate(159.90,544.50) rotate(-90)" x="0" y="0" font-size="8.6" fill="#1a1a1a" font-weight="normal" text-anchor="middle" textLength="34.00" lengthAdjust="spacingAndGlyphs" stroke="#1a1a1a" stroke-width="0.35">TCR clonality</text>
<line x1="201.50" y1="483.70" x2="236.50" y2="483.70" stroke="#222" stroke-width="1.0" />
<text stroke="#1a1a1a" stroke-width="0.1" x="208.80" y="491.40" font-size="5.0" fill="#1a1a1a" font-weight="normal" textLength="20.00" lengthAdjust="spacingAndGlyphs"  >p=0.036</text>
<line x1="200.30" y1="557.70" x2="200.30" y2="573.30" stroke="#7db85a" stroke-width="1.0" />
<line x1="200.30" y1="593.20" x2="200.30" y2="598.70" stroke="#7db85a" stroke-width="1.0" />
<rect x="186.40" y="573.30" width="27.40" height="19.90" fill="none" stroke="#7db85a" stroke-width="1.0"/>
<line x1="186.40" y1="587.20" x2="213.80" y2="587.20" stroke="#7db85a" stroke-width="1.0" />
<line x1="236.30" y1="528.70" x2="236.30" y2="542.00" stroke="#e09a3a" stroke-width="1.0" />
<line x1="236.30" y1="576.20" x2="236.30" y2="595.60" stroke="#e09a3a" stroke-width="1.0" />
<rect x="222.80" y="542.00" width="27.30" height="34.20" fill="none" stroke="#e09a3a" stroke-width="1.0"/>
<line x1="222.80" y1="561.50" x2="250.10" y2="561.50" stroke="#e09a3a" stroke-width="1.0" />
<circle cx="195.40" cy="557.60" r="1.6" fill="#5aa02c"/>
<circle cx="196.30" cy="570.70" r="1.6" fill="#5aa02c"/>
<circle cx="201.50" cy="570.50" r="1.6" fill="#5aa02c"/>
<circle cx="199.40" cy="575.00" r="1.6" fill="#5aa02c"/>
<circle cx="206.70" cy="580.90" r="1.6" fill="#5aa02c"/>
<circle cx="195.10" cy="587.00" r="1.6" fill="#5aa02c"/>
<circle cx="201.20" cy="589.60" r="1.6" fill="#5aa02c"/>
<circle cx="202.20" cy="592.00" r="1.6" fill="#5aa02c"/>
<circle cx="194.20" cy="594.40" r="1.6" fill="#5aa02c"/>
<circle cx="193.00" cy="595.80" r="1.6" fill="#5aa02c"/>
<circle cx="199.10" cy="600.80" r="1.6" fill="#5aa02c"/>
<circle cx="242.70" cy="528.30" r="1.6" fill="#db8a1a"/>
<circle cx="239.20" cy="538.20" r="1.6" fill="#db8a1a"/>
<circle cx="242.70" cy="552.00" r="1.6" fill="#db8a1a"/>
<circle cx="242.70" cy="556.00" r="1.6" fill="#db8a1a"/>
<circle cx="233.70" cy="566.70" r="1.6" fill="#db8a1a"/>
<circle cx="235.90" cy="574.00" r="1.6" fill="#db8a1a"/>
<circle cx="241.50" cy="576.60" r="1.6" fill="#db8a1a"/>
<circle cx="235.80" cy="591.00" r="1.6" fill="#db8a1a"/>
<circle cx="233.00" cy="596.20" r="1.6" fill="#db8a1a"/>
<circle cx="235.60" cy="488.70" r="1.6" fill="#db8a1a"/>
<rect x="273.1" y="472.3" width="2.7" height="7.9" fill="#000"/>
<line x1="298.10" y1="483.30" x2="298.10" y2="606.20" stroke="#1a1a1a" stroke-width="1.1" />
<line x1="298.10" y1="606.20" x2="449.40" y2="606.20" stroke="#1a1a1a" stroke-width="1.1" />
<line x1="295.30" y1="517.50" x2="298.10" y2="517.50" stroke="#1a1a1a" stroke-width="1.1" />
<text stroke="#1a1a1a" stroke-width="0.1" x="291.90" y="519.77" font-size="6.3" fill="#1a1a1a" text-anchor="end" >60</text>
<line x1="295.30" y1="557.90" x2="298.10" y2="557.90" stroke="#1a1a1a" stroke-width="1.1" />
<text stroke="#1a1a1a" stroke-width="0.1" x="291.90" y="560.17" font-size="6.3" fill="#1a1a1a" text-anchor="end" >40</text>
<line x1="295.30" y1="598.30" x2="298.10" y2="598.30" stroke="#1a1a1a" stroke-width="1.1" />
<text stroke="#1a1a1a" stroke-width="0.1" x="291.90" y="600.57" font-size="6.3" fill="#1a1a1a" text-anchor="end" >20</text>
<line x1="329.60" y1="606.20" x2="329.60" y2="608.80" stroke="#1a1a1a" stroke-width="1.1" />
<text stroke="#1a1a1a" stroke-width="0.1" x="329.60" y="618.17" font-size="6.3" fill="#1a1a1a" font-weight="normal" text-anchor="middle" >0.1</text>
<line x1="362.50" y1="606.20" x2="362.50" y2="608.80" stroke="#1a1a1a" stroke-width="1.1" />
<text stroke="#1a1a1a" stroke-width="0.1" x="362.50" y="618.17" font-size="6.3" fill="#1a1a1a" font-weight="normal" text-anchor="middle" >0.2</text>
<line x1="395.50" y1="606.20" x2="395.50" y2="608.80" stroke="#1a1a1a" stroke-width="1.1" />
<text stroke="#1a1a1a" stroke-width="0.1" x="395.50" y="618.17" font-size="6.3" fill="#1a1a1a" font-weight="normal" text-anchor="middle" >0.3</text>
<line x1="428.30" y1="606.20" x2="428.30" y2="608.80" stroke="#1a1a1a" stroke-width="1.1" />
<text stroke="#1a1a1a" stroke-width="0.1" x="428.30" y="618.17" font-size="6.3" fill="#1a1a1a" font-weight="normal" text-anchor="middle" >0.4</text>
<text x="357.30" y="629.40" font-size="8.6" fill="#1a1a1a" font-weight="normal" textLength="32.90" lengthAdjust="spacingAndGlyphs" stroke="#1a1a1a" stroke-width="0.35" >TCR clonality</text>
<text transform="translate(280.60,544.70) rotate(-90)" x="0" y="0" font-size="8.6" fill="#1a1a1a" font-weight="normal" text-anchor="middle" textLength="10.20" lengthAdjust="spacingAndGlyphs" stroke="#1a1a1a" stroke-width="0.35">Age</text>
<text stroke="#1a1a1a" stroke-width="0.1" x="383.10" y="492.40" font-size="5.0" fill="#1a1a1a" font-weight="normal" textLength="34.20" lengthAdjust="spacingAndGlyphs"  >r=0.42, p=0.06</text>
<line x1="305.00" y1="545.40" x2="442.70" y2="495.80" stroke="#1a1a1a" stroke-width="1.1" />
<circle cx="310.60" cy="487.50" r="1.7" fill="#0d2f72"/>
<circle cx="329.20" cy="514.00" r="1.7" fill="#0d2f72"/>
<circle cx="334.60" cy="513.50" r="1.7" fill="#0d2f72"/>
<circle cx="342.20" cy="512.70" r="1.7" fill="#0d2f72"/>
<circle cx="346.80" cy="508.30" r="1.7" fill="#0d2f72"/>
<circle cx="358.10" cy="519.50" r="1.7" fill="#0d2f72"/>
<circle cx="360.00" cy="518.30" r="1.7" fill="#0d2f72"/>
<circle cx="365.00" cy="514.50" r="1.7" fill="#0d2f72"/>
<circle cx="381.50" cy="509.20" r="1.7" fill="#0d2f72"/>
<circle cx="393.70" cy="528.10" r="1.7" fill="#0d2f72"/>
<circle cx="442.70" cy="495.80" r="1.7" fill="#0d2f72"/>
<circle cx="315.80" cy="528.10" r="1.7" fill="#0d2f72"/>
<circle cx="317.30" cy="529.80" r="1.7" fill="#0d2f72"/>
<circle cx="321.50" cy="533.30" r="1.7" fill="#0d2f72"/>
<circle cx="336.30" cy="538.10" r="1.7" fill="#0d2f72"/>
<circle cx="311.30" cy="546.20" r="1.7" fill="#0d2f72"/>
<circle cx="312.90" cy="556.30" r="1.7" fill="#0d2f72"/>
<circle cx="304.60" cy="565.20" r="1.7" fill="#0d2f72"/>
<circle cx="337.30" cy="566.90" r="1.7" fill="#0d2f72"/>
<circle cx="341.50" cy="590.00" r="1.7" fill="#0d2f72"/>
<circle cx="318.80" cy="600.80" r="1.7" fill="#0d2f72"/>
<rect x="0.5" y="0.5" width="519" height="637" fill="none" stroke="#000" stroke-width="1"/>
</svg>
</body></html>
